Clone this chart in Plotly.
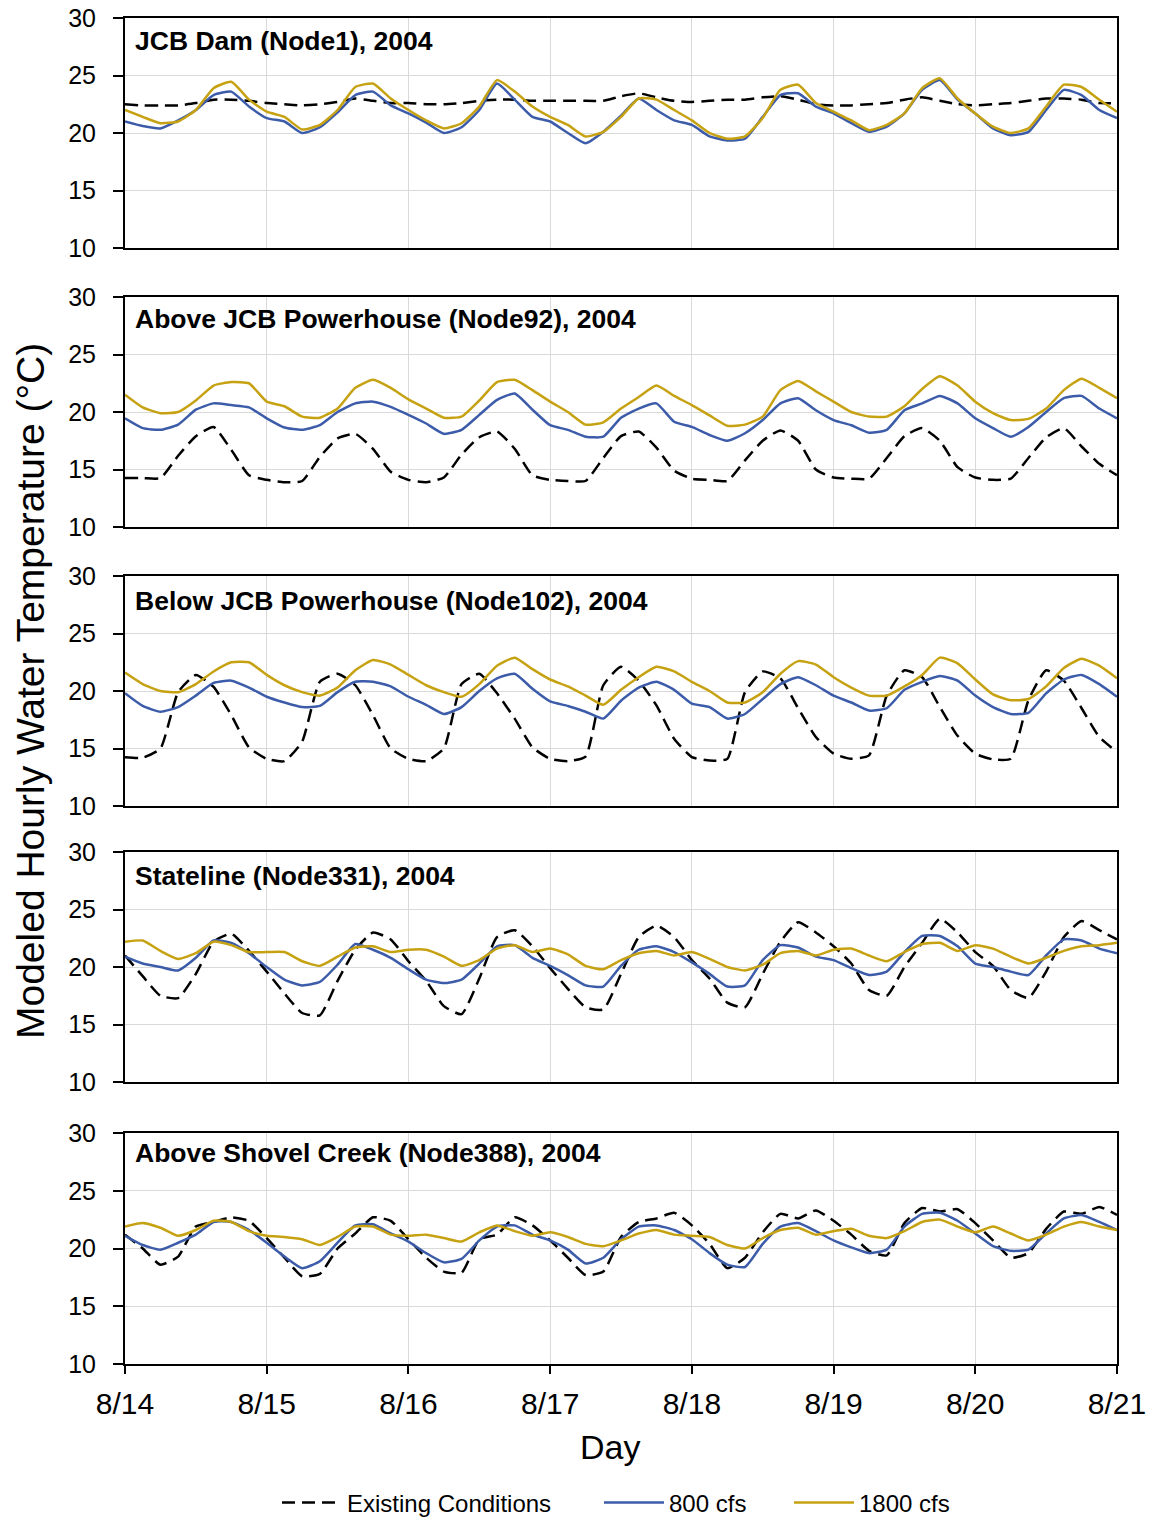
import plotly.graph_objects as go

# ---------------- data ----------------
hours = list(range(0, 169, 3))
day_ticks = [0, 24, 48, 72, 96, 120, 144, 168]
day_labels = ["8/14", "8/15", "8/16", "8/17", "8/18", "8/19", "8/20", "8/21"]
y_ticks = [10, 15, 20, 25, 30]
series_names = ["Existing Conditions", "800 cfs", "1800 cfs"]
panel_titles = [
    "JCB Dam (Node1), 2004",
    "Above JCB Powerhouse (Node92), 2004",
    "Below JCB Powerhouse (Node102), 2004",
    "Stateline (Node331), 2004",
    "Above Shovel Creek (Node388), 2004",
]

node1_existing = [22.5, 22.4, 22.4, 22.4, 22.6, 22.9, 22.9, 22.8, 22.6, 22.5, 22.4, 22.5, 22.7, 23.0, 22.8, 22.6, 22.6, 22.5, 22.5, 22.6, 22.8, 22.9, 22.9, 22.8, 22.8, 22.8, 22.8, 22.8, 23.2, 23.45, 23.1, 22.8, 22.7, 22.8, 22.9, 22.9, 23.1, 23.2, 22.9, 22.5, 22.4, 22.4, 22.5, 22.6, 22.9, 23.1, 22.8, 22.5, 22.4, 22.5, 22.6, 22.8, 23.0, 23.0, 22.9, 22.6, 22.6]
node1_800 = [21.0, 20.6, 20.4, 21.1, 22.0, 23.3, 23.6, 22.3, 21.3, 21.0, 20.0, 20.5, 21.8, 23.3, 23.6, 22.4, 21.7, 20.9, 20.0, 20.5, 22.0, 24.3, 22.9, 21.4, 21.0, 20.0, 19.1, 20.1, 21.5, 23.0, 22.0, 21.1, 20.7, 19.7, 19.35, 19.5, 21.4, 23.3, 23.45, 22.3, 21.7, 20.85, 20.1, 20.55, 21.7, 23.75, 24.6, 22.9, 21.7, 20.4, 19.8, 20.1, 22.0, 23.75, 23.3, 22.0, 21.3]
node1_1800 = [22.0, 21.4, 20.85, 21.0, 22.0, 23.9, 24.45, 22.9, 21.85, 21.4, 20.3, 20.7, 22.0, 24.0, 24.3, 23.0, 22.0, 21.1, 20.4, 20.85, 22.3, 24.6, 23.6, 22.3, 21.4, 20.7, 19.7, 20.1, 21.4, 23.0, 22.9, 22.0, 21.1, 20.0, 19.5, 19.7, 21.3, 23.75, 24.2, 22.6, 21.85, 21.1, 20.25, 20.7, 21.7, 23.9, 24.75, 23.0, 21.7, 20.55, 20.0, 20.4, 22.3, 24.2, 24.0, 22.9, 21.85]

node92_existing = [14.25, 14.25, 14.25, 16.2, 17.9, 18.7, 16.7, 14.5, 14.1, 13.9, 14.0, 16.1, 17.7, 18.1, 16.8, 14.8, 14.1, 13.9, 14.3, 16.3, 17.8, 18.3, 16.8, 14.5, 14.1, 14.0, 14.0, 16.0, 17.9, 18.3, 16.9, 14.9, 14.2, 14.1, 14.0, 15.8, 17.5, 18.4, 17.5, 15.0, 14.3, 14.2, 14.2, 16.0, 17.9, 18.6, 17.5, 15.2, 14.3, 14.1, 14.2, 16.0, 17.8, 18.6, 17.0, 15.5, 14.5]
node92_800 = [19.45, 18.6, 18.45, 18.9, 20.2, 20.75, 20.6, 20.4, 19.45, 18.65, 18.45, 18.85, 20.0, 20.75, 20.9, 20.45, 19.75, 19.0, 18.1, 18.45, 19.75, 21.05, 21.6, 20.2, 18.85, 18.45, 17.85, 17.85, 19.5, 20.3, 20.75, 19.15, 18.7, 18.0, 17.5, 18.15, 19.3, 20.75, 21.2, 20.15, 19.3, 18.85, 18.2, 18.45, 20.15, 20.75, 21.4, 20.75, 19.45, 18.6, 17.85, 18.7, 20.0, 21.2, 21.4, 20.3, 19.45]
node92_1800 = [21.5, 20.4, 19.9, 20.0, 21.0, 22.3, 22.6, 22.5, 20.9, 20.5, 19.6, 19.5, 20.3, 22.1, 22.8, 22.1, 21.1, 20.3, 19.5, 19.6, 21.0, 22.6, 22.8, 21.9, 20.9, 20.0, 18.9, 19.1, 20.3, 21.3, 22.3, 21.4, 20.6, 19.7, 18.8, 18.9, 19.6, 21.9, 22.7, 21.8, 20.9, 20.0, 19.6, 19.6, 20.5, 22.0, 23.1, 22.3, 20.9, 19.9, 19.3, 19.4, 20.3, 21.9, 22.9, 22.1, 21.2]

node102_existing = [14.25, 14.2, 15.0, 19.9, 21.4, 20.35, 17.9, 15.1, 14.1, 13.9, 15.6, 20.8, 21.5, 20.5, 17.9, 15.0, 14.1, 13.9, 15.0, 20.6, 21.5, 19.8, 17.6, 15.1, 14.1, 13.9, 14.3, 20.5, 22.1, 20.9, 18.75, 15.85, 14.25, 13.95, 14.1, 19.9, 21.7, 21.1, 18.5, 16.0, 14.55, 14.1, 14.4, 19.6, 21.8, 21.2, 18.6, 16.1, 14.55, 14.05, 14.1, 19.2, 21.8, 20.9, 18.5, 16.0, 14.7]
node102_800 = [19.8, 18.7, 18.2, 18.6, 19.6, 20.7, 20.9, 20.3, 19.5, 19.0, 18.6, 18.7, 19.9, 20.8, 20.8, 20.4, 19.5, 18.8, 18.0, 18.6, 20.0, 21.1, 21.5, 20.2, 19.1, 18.7, 18.2, 17.6, 19.15, 20.3, 20.8, 20.1, 18.9, 18.6, 17.6, 18.0, 19.3, 20.6, 21.2, 20.5, 19.6, 19.0, 18.3, 18.5, 20.1, 20.8, 21.3, 20.9, 19.6, 18.6, 18.0, 18.1, 19.8, 21.0, 21.4, 20.6, 19.5]
node102_1800 = [21.6, 20.6, 20.0, 19.9, 20.6, 21.7, 22.5, 22.5, 21.4, 20.5, 19.9, 19.6, 20.3, 21.8, 22.7, 22.3, 21.4, 20.5, 19.9, 19.5, 20.6, 22.2, 22.9, 21.9, 21.0, 20.4, 19.6, 18.8, 20.1, 21.2, 22.1, 21.7, 20.8, 20.0, 19.0, 19.0, 19.9, 21.5, 22.6, 22.3, 21.2, 20.3, 19.6, 19.6, 20.4, 21.4, 22.9, 22.4, 21.0, 19.7, 19.2, 19.3, 20.4, 22.0, 22.8, 22.2, 21.1]

node331_existing = [21.0, 19.2, 17.5, 17.3, 19.4, 22.2, 22.9, 21.4, 19.6, 17.7, 16.0, 15.8, 18.8, 21.5, 23.0, 22.4, 20.5, 18.8, 16.6, 15.9, 19.0, 22.6, 23.2, 21.8, 19.9, 18.1, 16.5, 16.3, 19.4, 22.6, 23.6, 22.6, 20.6, 19.0, 16.9, 16.5, 19.4, 22.2, 23.9, 23.0, 21.8, 20.3, 18.0, 17.5, 20.0, 22.1, 24.2, 23.0, 21.3, 20.1, 18.0, 17.3, 19.6, 22.6, 24.0, 23.2, 22.4]
node331_800 = [20.9, 20.3, 20.0, 19.7, 20.8, 22.3, 22.1, 21.2, 20.0, 18.9, 18.4, 18.7, 20.2, 22.0, 21.5, 20.8, 19.8, 18.9, 18.6, 18.9, 20.3, 21.8, 21.9, 20.8, 20.1, 19.3, 18.4, 18.3, 20.1, 21.5, 21.8, 21.3, 20.4, 19.4, 18.3, 18.4, 20.6, 21.9, 21.7, 20.9, 20.6, 19.9, 19.3, 19.6, 21.3, 22.7, 22.7, 21.8, 20.3, 20.0, 19.6, 19.3, 21.0, 22.4, 22.3, 21.6, 21.2]
node331_1800 = [22.2, 22.3, 21.4, 20.7, 21.2, 22.2, 21.9, 21.3, 21.3, 21.3, 20.5, 20.1, 20.9, 21.7, 21.8, 21.3, 21.5, 21.5, 20.9, 20.1, 20.6, 21.6, 21.9, 21.3, 21.6, 21.1, 20.1, 19.8, 20.6, 21.2, 21.4, 21.0, 21.3, 20.7, 20.0, 19.7, 20.2, 21.2, 21.4, 21.0, 21.5, 21.6, 21.0, 20.5, 21.3, 22.0, 22.1, 21.4, 21.9, 21.6, 20.9, 20.3, 20.8, 21.4, 21.8, 21.9, 22.1]

node388_existing = [21.2, 20.0, 18.6, 19.3, 21.9, 22.3, 22.7, 22.4, 20.9, 19.2, 17.6, 17.8, 20.0, 21.3, 22.7, 22.4, 20.8, 19.2, 18.0, 17.9, 20.8, 21.2, 22.7, 22.0, 20.7, 19.2, 17.7, 18.0, 21.0, 22.3, 22.6, 23.1, 22.0, 20.4, 18.3, 19.2, 21.4, 23.0, 22.6, 23.3, 22.4, 21.2, 19.8, 19.4, 22.2, 23.5, 23.2, 23.4, 22.2, 20.7, 19.2, 19.6, 21.7, 23.2, 23.0, 23.6, 22.9]
node388_800 = [21.1, 20.3, 19.9, 20.5, 21.2, 22.3, 22.3, 21.6, 20.5, 19.3, 18.3, 18.9, 20.5, 22.0, 22.1, 21.3, 20.6, 19.6, 18.8, 19.1, 20.7, 21.9, 22.0, 21.2, 20.7, 19.9, 18.7, 19.2, 20.8, 21.9, 22.0, 21.6, 20.8, 19.6, 18.6, 18.4, 20.4, 21.9, 22.2, 21.5, 20.7, 20.1, 19.6, 19.9, 21.9, 23.0, 23.1, 22.4, 21.3, 20.2, 19.8, 19.9, 21.3, 22.6, 22.9, 22.3, 21.6]
node388_1800 = [21.9, 22.2, 21.8, 21.1, 21.6, 22.4, 22.3, 21.5, 21.1, 21.0, 20.8, 20.3, 21.0, 21.9, 21.9, 21.2, 21.1, 21.2, 20.9, 20.6, 21.4, 22.0, 21.5, 21.1, 21.4, 21.0, 20.4, 20.2, 20.7, 21.3, 21.6, 21.2, 21.1, 21.0, 20.3, 20.0, 20.9, 21.6, 21.8, 21.2, 21.5, 21.7, 21.1, 20.9, 21.5, 22.3, 22.5, 21.9, 21.4, 21.9, 21.3, 20.7, 21.2, 21.9, 22.3, 21.9, 21.6]

panels = [
    (node1_existing, node1_800, node1_1800),
    (node92_existing, node92_800, node92_1800),
    (node102_existing, node102_800, node102_1800),
    (node331_existing, node331_800, node331_1800),
    (node388_existing, node388_800, node388_1800),
]

# ---------------- styling / layout ----------------
W, H = 1153, 1520
PLOT_L, PLOT_R, PLOT_T, PLOT_B = 125, 1117, 18, 1364  # page pixels
ML, MT = PLOT_L, PLOT_T
MR, MB = W - PLOT_R, H - PLOT_B
PH = H - MT - MB
PW = W - ML - MR
panel_px = [(18, 248), (297, 527), (576, 806), (852, 1082), (1133, 1364)]
title_px = [41, 319, 601, 876, 1153]
legend_left_px = [277, 599, 789]


def py(px):
    return (PLOT_B - px) / PH


def pxx(px):
    return (px - PLOT_L) / PW


styles = [
    dict(color="#000000", width=2.5, dash="13px,7px"),
    dict(color="#3C5CAA", width=2.5),
    dict(color="#C6A212", width=2.5),
]
legend_ids = ["legend", "legend2", "legend3"]
FONT = "Arial, Liberation Sans, sans-serif"

fig = go.Figure()
for i, series in enumerate(panels):
    suffix = "" if i == 0 else str(i + 1)
    for j, vals in enumerate(series):
        fig.add_trace(go.Scatter(
            x=hours, y=vals, mode="lines",
            name=series_names[j], legendgroup=series_names[j],
            legend=legend_ids[j],
            showlegend=(i == 0),
            line=dict(shape="spline", smoothing=0.5, **styles[j]),
            xaxis="x" + suffix, yaxis="y" + suffix,
        ))

layout = dict(
    width=W, height=H,
    margin=dict(l=ML, r=MR, t=MT, b=MB, autoexpand=False),
    paper_bgcolor="white", plot_bgcolor="white",
    font=dict(family=FONT, color="black"),
    showlegend=True,
    annotations=[],
)
for j, lid in enumerate(legend_ids):
    layout[lid] = dict(
        orientation="h", x=pxx(legend_left_px[j]), xanchor="left",
        y=py(1503), yanchor="middle", bgcolor="rgba(0,0,0,0)",
        font=dict(size=24, family=FONT), itemwidth=60,
    )

for i in range(5):
    suffix = "" if i == 0 else str(i + 1)
    top, bot = panel_px[i]
    last = (i == 4)
    layout["xaxis" + suffix] = dict(
        domain=[0, 1], anchor="y" + suffix, range=[0, 168],
        tickvals=day_ticks, ticktext=day_labels,
        showticklabels=last, ticks="outside" if last else "",
        ticklen=8, tickwidth=1.5, tickcolor="black",
        tickfont=dict(size=30, family=FONT), ticklabelstandoff=4,
        showgrid=True, gridcolor="#D9D9D9", gridwidth=1,
        showline=True, mirror=True, linecolor="black", linewidth=2,
        zeroline=False,
    )
    layout["yaxis" + suffix] = dict(
        domain=[py(bot), py(top)], anchor="x" + suffix, range=[10, 30],
        tickvals=y_ticks, ticks="outside", ticklen=10, tickwidth=1.5,
        tickcolor="black", tickfont=dict(size=25, family=FONT),
        ticklabelstandoff=12,
        showgrid=True, gridcolor="#D9D9D9", gridwidth=1,
        showline=True, mirror=True, linecolor="black", linewidth=2,
        zeroline=False,
    )
    layout["annotations"].append(dict(
        text="<b>" + panel_titles[i] + "</b>", xref="paper", yref="paper",
        x=pxx(133), y=py(title_px[i]), xanchor="left", yanchor="middle",
        showarrow=False, font=dict(size=26.5, family=FONT, color="black"),
    ))

layout["annotations"].append(dict(
    text="Modeled Hourly Water Temperature (°C)", xref="paper", yref="paper",
    x=pxx(30), y=py(691), xanchor="center", yanchor="middle",
    textangle=-90, showarrow=False, font=dict(size=39, family=FONT),
))
layout["annotations"].append(dict(
    text="Day", xref="paper", yref="paper",
    x=pxx(610), y=py(1447), xanchor="center", yanchor="middle",
    showarrow=False, font=dict(size=34, family=FONT),
))

fig.update_layout(**layout)
# remove the browser's default 8px page margin so the figure fills the window
fig.write_html("out.html", config={"displayModeBar": False},
               post_script="document.body.style.margin='0px';")
